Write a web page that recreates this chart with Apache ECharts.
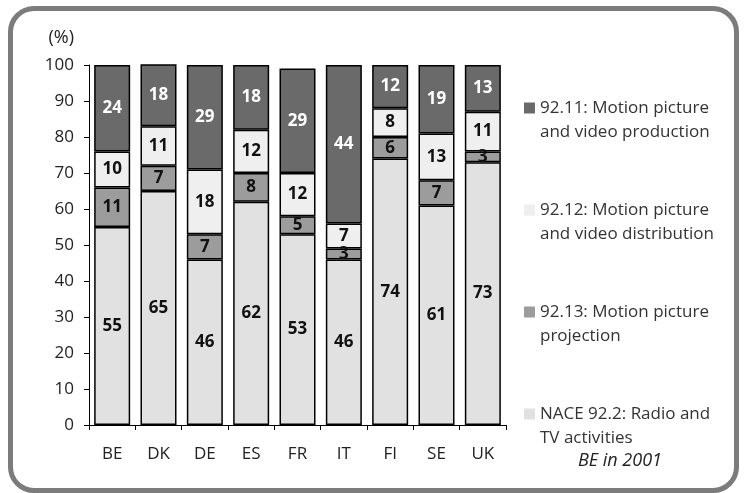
<!DOCTYPE html>
<html>
<head>
<meta charset="utf-8">
<script src="https://cdn.jsdelivr.net/npm/echarts@6/dist/echarts.min.js"></script>
<style>
    html, body { margin: 0; padding: 0; background: #fff; }
    #wrap { position: relative; width: 746px; height: 493px; overflow: hidden; }
    #chart { position: absolute; left: 0; top: 0; width: 746px; height: 493px; }
    .frame {
        position: absolute; left: 8px; top: 6px; width: 731px; height: 487px;
        border: 5px solid #7c7c7c; border-radius: 26px; box-sizing: border-box;
        pointer-events: none;
    }
</style>
</head>
<body>
<div id="wrap">
    <div id="chart"></div>
    <div class="frame"></div>
</div>
<script>
    // countries, bottom segment first
    var countries = ['BE', 'DK', 'DE', 'ES', 'FR', 'IT', 'FI', 'SE', 'UK'];
    var radioTv = [55, 65, 46, 62, 53, 46, 74, 61, 73];
    var projection = [11, 7, 7, 8, 5, 3, 6, 7, 3];
    var distribution = [10, 11, 18, 12, 12, 7, 8, 13, 11];
    var production = [24, 18, 29, 18, 29, 44, 12, 19, 13];
    var yTicks = [0, 100, 10]; // min, max, step

    var font = 'Open Sans';
    var chart = echarts.init(document.getElementById('chart'));

    function seg(name, data, color, labelColor) {
        return {
            name: name,
            type: 'bar',
            stack: 'total',
            barWidth: 36,
            data: data,
            itemStyle: {color: color, borderColor: '#000', borderWidth: 1.5},
            label: {
                show: true,
                position: 'inside',
                color: labelColor,
                fontFamily: font,
                fontWeight: 'bold',
                fontSize: 17
            }
        };
    }

    var option = {
        animation: false,
        title: {
            text: 'BE in 2001',
            left: 578, top: 452,
            padding: 0,
            textStyle: {fontFamily: font, fontStyle: 'italic', fontWeight: 'normal', fontSize: 18, color: '#222'}
        },
        grid: {left: 89, right: 240, top: 65, bottom: 68},
        legend: {
            orient: 'vertical',
            left: 524, top: 72,
            padding: 0,
            itemWidth: 11, itemHeight: 11, itemGap: 30,
            icon: 'rect',
            itemStyle: {borderWidth: 0},
            data: ['92.11: Motion picture\nand video production',
                   '92.12: Motion picture\nand video distribution',
                   '92.13: Motion picture\nprojection',
                   'NACE 92.2: Radio and\nTV activities'],
            formatter: function (n) { return '\n' + n; },
            textStyle: {fontFamily: font, fontSize: 17, color: '#333', lineHeight: 24}
        },
        xAxis: {
            type: 'category',
            data: countries,
            axisLine: {lineStyle: {color: '#000', width: 1}},
            axisTick: {show: true, length: 5, lineStyle: {color: '#000'}},
            axisLabel: {fontFamily: font, fontSize: 17, color: '#222', margin: 21}
        },
        yAxis: {
            type: 'value',
            min: yTicks[0], max: yTicks[1], interval: yTicks[2],
            name: '(%)',
            nameLocation: 'end',
            nameGap: 18,
            nameTextStyle: {fontFamily: font, fontSize: 18, color: '#222', align: 'right', padding: [0, 15, 0, 0]},
            axisLine: {show: true, lineStyle: {color: '#000', width: 1}},
            axisTick: {show: true, length: 5, lineStyle: {color: '#000'}},
            splitLine: {show: false},
            axisLabel: {fontFamily: font, fontSize: 17, color: '#222', margin: 15}
        },
        series: [
            seg('NACE 92.2: Radio and\nTV activities', radioTv, '#e1e1e1', '#111'),
            seg('92.13: Motion picture\nprojection', projection, '#9c9c9c', '#111'),
            seg('92.12: Motion picture\nand video distribution', distribution, '#efefef', '#111'),
            seg('92.11: Motion picture\nand video production', production, '#6a6a6a', '#fff')
        ]
    };
    chart.setOption(option);
</script>
</body>
</html>
